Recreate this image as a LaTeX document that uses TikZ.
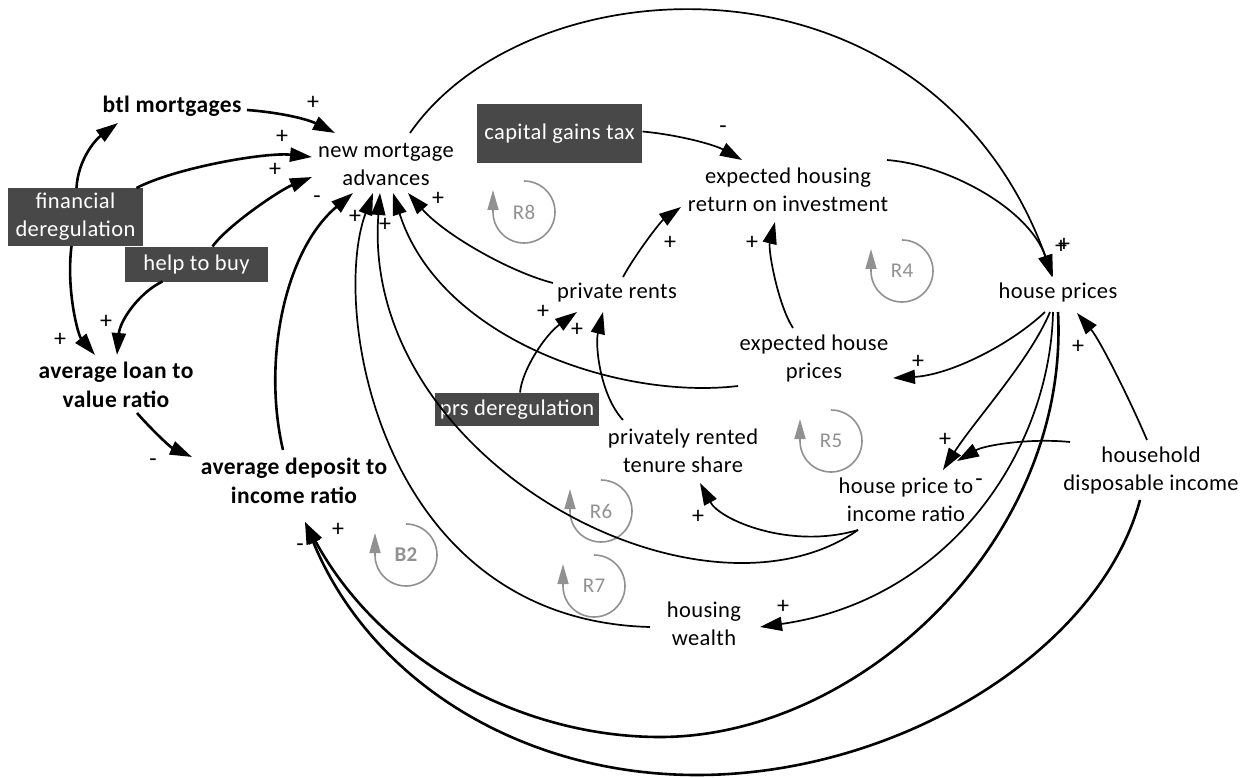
\documentclass[tikz,border=0pt]{standalone}
\usepackage{fontspec}
\setmainfont{Carlito}[LetterSpace=1.7]
\usetikzlibrary{arrows.meta,calc}
\definecolor{boxgray}{RGB}{72,72,72}
\definecolor{loopgray}{RGB}{145,145,145}
\begin{document}
\begin{tikzpicture}[x=1pt,y=-1pt,
  var/.style={align=center,inner sep=0pt,font=\fontsize{22.5}{28}\selectfont},
  boldvar/.style={var,font=\fontsize{23.5}{29}\selectfont\bfseries},
  exo/.style={var,fill=boxgray,text=white},
  link/.style={line width=1.7pt,-{Triangle[length=22pt,width=14pt]}},
  heavylink/.style={link,line width=2.6pt},
  sign/.style={inner sep=0pt,font=\fontsize{24}{24}\selectfont},
  looptxt/.style={text=loopgray,inner sep=0pt,font=\fontsize{21}{21}\selectfont},
  loopline/.style={draw=loopgray,line width=1.6pt,-{Triangle[length=20pt,width=11pt]}}
]
\useasboundingbox[fill=white] (0,0) rectangle (1251,778);

% ---- variables -------------------------------------------------------
\node[boldvar] (btl)  at (172,106)   {btl mortgages};
\node[var]     (nma)  at (386,164)   {new mortgage\\advances};
\node[exo,minimum width=165pt,minimum height=59pt] (cgt) at (559.5,133.5) {capital gains tax};
\node[var]     (ehr)  at (788,190)   {expected housing\\return on investment};
\node[var]     (hp)   at (1058,293)  {house prices};
\node[exo,minimum width=135pt,minimum height=58pt] (fd)  at (75.5,217)  {financial\\deregulation};
\node[exo,minimum width=143pt,minimum height=35pt] (htb) at (196.5,264.5) {help to buy};
\node[boldvar] (altv) at (116,385)   {average loan to\\value ratio};
\node[boldvar] (adir) at (294,481)   {average deposit to\\income ratio};
\node[var]     (pr)   at (617,293)   {private rents};
\node[var]     (ehp)  at (814,359)   {expected house\\prices};
\node[exo,minimum width=164pt,minimum height=33pt] (prs) at (517,409.5) {prs deregulation};
\node[var]     (prts) at (683,451)   {privately rented\\tenure share};
\node[var]     (hpir) at (906,500)   {house price to\\income ratio};
\node[var]     (hdi)  at (1151,470)  {household\\disposable income};
\node[var]     (hw)   at (704,624)   {housing\\wealth};

% ---- loop markers ----------------------------------------------------
\foreach \nm/\cx/\cy/\tx in {r8/524/212/R8, r4/902/271/R4, r5/831/441/R5,
                             r6/601/511/R6, r7/594/586/R7} {
  \node[looptxt] (\nm) at (\cx,\cy) {\tx};
  \draw[loopline] (\nm.center) ++(0,-31) arc[start angle=-90,end angle=180,radius=31] -- ++(0,-22);
}
\node[looptxt,font=\fontsize{21}{21}\selectfont\bfseries] (b2) at (406,555) {B2};
\draw[loopline] (b2.center) ++(0,-31) arc[start angle=-90,end angle=180,radius=31] -- ++(0,-22);

% ---- causal links: policy and credit side ---------------------------
\draw[heavylink] ($(btl)+(75,4)$) .. controls (275,112) and (305,118) .. ($(nma)+(-51,-31)$);
\draw[heavylink] ($(fd)+(61,-29)$) .. controls (175,168) and (265,152) .. ($(nma)+(-74,-7)$);
\draw[heavylink] ($(htb)+(16,-18)$) .. controls (228,225) and (280,190) .. ($(nma)+(-74,13)$);
\draw[heavylink] ($(fd)+(1,-29)$) .. controls (78,160) and (95,140) .. ($(btl)+(-54,17)$);
\draw[heavylink] ($(fd)+(-4,29)$) .. controls (66,290) and (78,335) .. ($(altv)+(-21,-30)$);
\draw[heavylink] ($(htb)+(-34,17)$) .. controls (140,292) and (120,320) .. ($(altv)+(1,-30)$);
\draw[heavylink] ($(altv)+(21,28)$) .. controls (152,430) and (170,447) .. ($(adir)+(-102,-24)$);
\draw[heavylink] ($(adir)+(-11,-31)$) .. controls (262,360) and (285,250) .. ($(nma)+(-33,29)$);

% ---- links into new mortgage advances from the housing side ---------
\draw[link] ($(hw)+(-54,3)$) .. controls (380,620) and (330,310) .. ($(nma)+(-13,29)$);
\draw[link] ($(hpir)+(-48,30)$) .. controls (700,640) and (360,460) .. ($(nma)+(-6,29)$);
\draw[link] ($(ehp)+(-76,27)$) .. controls (620,400) and (440,340) .. ($(nma)+(7,29)$);
\draw[link] ($(pr)+(-64,-10)$) .. controls (510,272) and (445,235) .. ($(nma)+(22,29)$);

% ---- expectations and prices ----------------------------------------
\draw[link] ($(pr)+(6,-16)$) .. controls (635,255) and (660,222) .. ($(ehr)+(-107,17)$);
\draw[link] ($(ehp)+(-21,-31)$) .. controls (778,305) and (768,250) .. ($(ehr)+(-13,32)$);
\draw[link] ($(cgt)+(83,-2)$) .. controls (680,135) and (715,145) .. ($(ehr)+(-46,-30)$);
\draw[link] ($(ehr)+(99,-30)$) .. controls (950,165) and (1030,210) .. ($(hp)+(-6,-16)$);
\draw[link] ($(nma)+(24,-31)$) .. controls (530,-40) and (930,-60) .. ($(hp)+(-5,-16)$);
\draw[link] ($(hp)+(-13,19)$) .. controls (1010,345) and (950,375) .. ($(ehp)+(79,19)$);
\draw[link] ($(hp)+(-8,19)$) .. controls (1030,360) and (975,420) .. ($(hpir)+(37,-30)$);
\draw[link] ($(hdi)+(-81,-28)$) .. controls (1030,438) and (985,445) .. ($(hpir)+(51,-39)$);
\draw[link] ($(hdi)+(-4,-30)$) .. controls (1130,400) and (1100,340) .. ($(hp)+(19,20)$);
\draw[link] ($(hp)+(-5,19)$) .. controls (1050,450) and (950,600) .. ($(hw)+(56,3)$);
\draw[heavylink] ($(hp)+(0,19)$) .. controls (1070,540) and (860,737) .. (660,737)
                 .. controls (520,737) and (380,660) .. ($(adir)+(11,41)$);
\draw[heavylink] ($(hdi)+(-11,30)$) .. controls (1100,650) and (900,775) .. (697,775)
                 .. controls (520,775) and (370,680) .. ($(adir)+(11,41)$);

% ---- private rented sector ------------------------------------------
\draw[link] ($(prs)+(3,-17)$) .. controls (522,370) and (545,335) .. ($(pr)+(-40,19)$);
\draw[link] ($(prts)+(-60,-31)$) .. controls (600,395) and (595,345) .. ($(pr)+(-14,19)$);
\draw[link] ($(hpir)+(-48,30)$) .. controls (790,550) and (720,520) .. ($(prts)+(17,32)$);

% ---- polarity signs --------------------------------------------------
\node[sign] (s1)  at (313,103)  {+};
\node[sign] (s2)  at (282,137)  {+};
\node[sign] (s3)  at (275,170)  {+};
\node[sign] (s5)  at (60,340)   {+};
\node[sign] (s6)  at (106,322)  {+};
\node[sign] (s7)  at (153,463)  {-};
\node[sign] (s8)  at (317,200)  {-};
\node[sign] (s9)  at (355,217)  {+};
\node[sign] (s10) at (385,225)  {+};
\node[sign] (s12) at (438,199)  {+};
\node[sign] (s13) at (670,243)  {+};
\node[sign] (s14) at (752,243)  {+};
\node[sign] (s15) at (723,130)  {-};
\node[sign] (s16) at (1061,247) {+};
\node[sign] (s17) at (1064,245) {+};
\node[sign] (s18) at (918,362)  {+};
\node[sign] (s19) at (945,440)  {+};
\node[sign] (s20) at (979,483)  {-};
\node[sign] (s21) at (1078,347) {+};
\node[sign] (s22) at (783,607)  {+};
\node[sign] (s23) at (338,530)  {+};
\node[sign] (s24) at (300,548)  {-};
\node[sign] (s25) at (543,312)  {+};
\node[sign] (s26) at (577,330)  {+};
\node[sign] (s27) at (698,517)  {+};
\end{tikzpicture}
\end{document}
